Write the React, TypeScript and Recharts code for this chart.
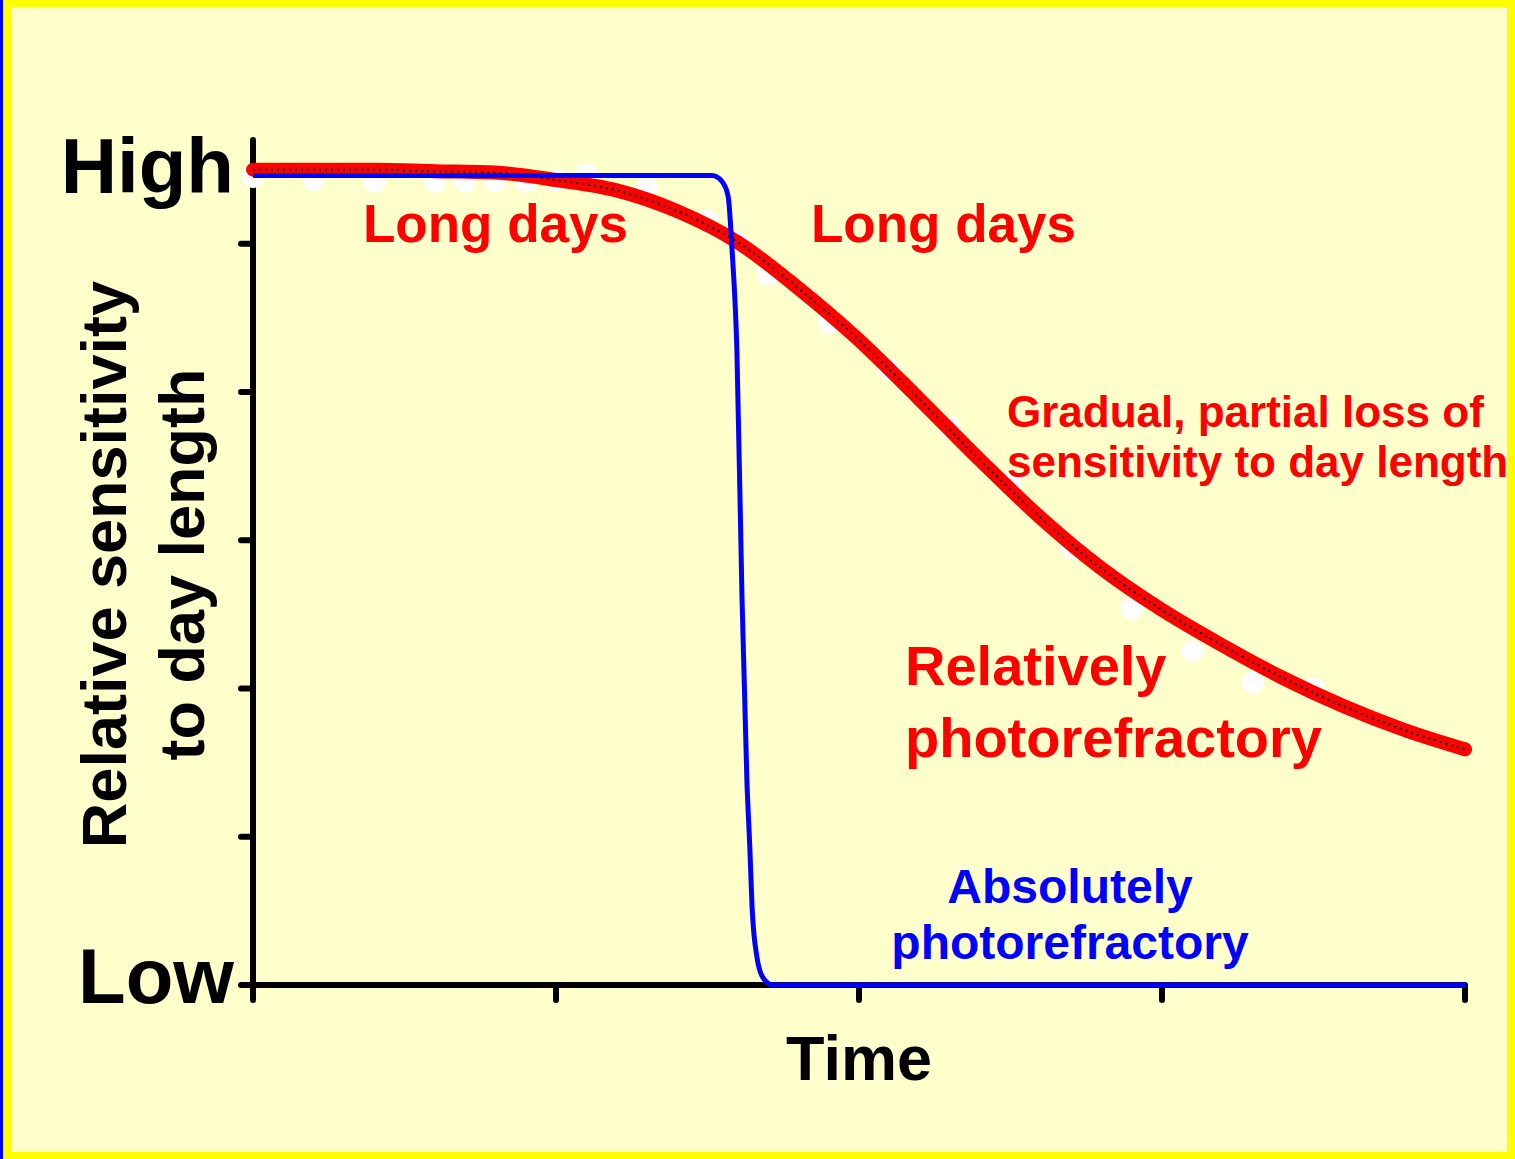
import { ComposedChart, Line, Scatter, XAxis, YAxis } from 'recharts'

// time axis, arbitrary units (0 .. 40)
const relTime = [0, 2, 4, 6, 8, 10, 12, 14, 16, 18, 20, 22, 24, 26, 28, 30, 32, 34, 36, 38, 40]
const relValues = [5.5, 5.5, 5.5, 5.49, 5.48, 5.43, 5.36, 5.22, 5.01, 4.7, 4.35, 3.95, 3.54, 3.15, 2.81, 2.53, 2.29, 2.07, 1.88, 1.72, 1.59]

const absTime = [0, 15.15, 15.48, 15.68, 15.81, 15.97, 16.14, 16.3, 16.4, 16.47, 16.63, 16.83, 17.16, 40]
const absValues = [5.46, 5.46, 5.42, 5.32, 4.96, 4.28, 2.6, 1.38, 0.91, 0.53, 0.19, 0.05, 0, 0]

const pointTime = [0, 2, 4, 6, 7, 8, 9, 10, 11, 13, 15, 16, 17, 19, 21, 23, 25, 27, 29, 31, 33, 35]
const pointValues = [5.45, 5.43, 5.42, 5.42, 5.42, 5.42, 5.42, 5.43, 5.47, 5.38, 5.16, 5.01, 4.79, 4.47, 4.15, 3.76, 3.39, 2.95, 2.54, 2.25, 2.04, 2.0]

const xTicks = [0, 10, 20, 30, 40]
const yTicks = [0, 1, 2, 3, 4, 5, 5.5]
const yTickLabels: Record<number, string> = { 0: 'Low', 5.5: 'High' }

const relData = relTime.map((t, i) => ({ t, v: relValues[i] }))
const absData = absTime.map((t, i) => ({ t, v: absValues[i] }))
const pointData = pointTime.map((t, i) => ({ t, v: pointValues[i] }))

const FONT = '"Liberation Sans", Arial, sans-serif'
const W = 1515
const H = 1159
const MARGIN = { top: 140, right: 50, bottom: 144, left: 193 }

function YTick(props: any) {
  const { x, y, payload } = props
  const label = yTickLabels[payload.value]
  return (
    <g>
      {payload.value !== 5.5 && (
        <line x1={x} x2={x + 12} y1={y} y2={y} stroke='#000' strokeWidth={6} strokeLinecap='round' />
      )}
      {label && (
        <text x={x - 7} y={y + (payload.value === 0 ? 18 : 23)} textAnchor='end'
          fontFamily={FONT} fontWeight='bold' fontSize={78} fill='#000'>
          {label}
        </text>
      )}
    </g>
  )
}

function XTick(props: any) {
  const { x, y } = props
  return <line x1={x} x2={x} y1={y - 15} y2={y} stroke='#000' strokeWidth={6} strokeLinecap='round' />
}

function TimeLabel(props: any) {
  const vb = props.viewBox
  return (
    <text x={vb.x + vb.width / 2} y={vb.y + 95} textAnchor='middle'
      fontFamily={FONT} fontWeight='bold' fontSize={63} fill='#000'>
      Time
    </text>
  )
}

function SensLabel(props: any) {
  const vb = props.viewBox
  const cy = vb.y + vb.height / 2 + 2
  return (
    <g fontFamily={FONT} fontWeight='bold' fontSize={63} fill='#000'>
      <text x={126} y={cy} textAnchor='middle' transform={`rotate(-90, 126, ${cy})`}>Relative sensitivity</text>
      <text x={204} y={cy} textAnchor='middle' transform={`rotate(-90, 204, ${cy})`}>to day length</text>
    </g>
  )
}

const WhiteDot = (props: any) => <circle cx={props.cx} cy={props.cy} r={11} fill='#fff' />

const layer = { position: 'absolute' as const, left: 0, top: 0 }

function App() {
  return (
    <div style={{ position: 'absolute', left: 0, top: 0, width: W, height: H, background: '#ffff00' }}>
      <div style={{ position: 'absolute', left: 0, top: 0, width: 3, height: H, background: '#0000ff' }} />
      <div style={{ position: 'absolute', left: 11, top: 7, width: 1496, height: 1145, background: '#ffffcc' }} />

      {/* bottom layer: axes and the white data points */}
      <div style={layer}>
        <ComposedChart width={W} height={H} margin={MARGIN}>
          <XAxis dataKey='t' type='number' domain={[0, 40]} ticks={xTicks} interval={0}
            axisLine={{ stroke: '#000', strokeWidth: 6 }} tickLine={false} tickSize={15} tickMargin={0}
            tick={<XTick />} height={30} label={<TimeLabel />} />
          <YAxis dataKey='v' type='number' domain={[0, 5.7]} ticks={yTicks} interval={0}
            axisLine={{ stroke: '#000', strokeWidth: 6, strokeLinecap: 'round' }} tickLine={false}
            tickSize={12} tickMargin={0} tick={<YTick />} width={60} label={<SensLabel />} />
          <Scatter data={pointData} dataKey='v' shape={<WhiteDot />} isAnimationActive={false} />
        </ComposedChart>
      </div>

      {/* top layer: the two curves, same scales */}
      <div style={layer}>
        <ComposedChart width={W} height={H} margin={MARGIN}>
          <XAxis dataKey='t' type='number' domain={[0, 40]} ticks={xTicks} height={30}
            axisLine={false} tickLine={false} tick={false} />
          <YAxis dataKey='v' type='number' domain={[0, 5.7]} ticks={yTicks} width={60}
            axisLine={false} tickLine={false} tick={false} />
          <Line data={relData} dataKey='v' type='monotone' stroke='#ff0000' strokeWidth={14}
            strokeLinecap='round' dot={false} activeDot={false} isAnimationActive={false} />
          <Line data={relData} dataKey='v' type='monotone' stroke='#000' strokeWidth={2}
            strokeDasharray='2 4' dot={false} activeDot={false} isAnimationActive={false} />
          <Line data={absData} dataKey='v' type='monotone' stroke='#0000ff' strokeWidth={5}
            dot={false} activeDot={false} isAnimationActive={false} />
        </ComposedChart>
      </div>

      <svg width={W} height={H} style={{ ...layer, pointerEvents: 'none' }}
        fontFamily={FONT} fontWeight='bold'>
        <g fill='#ff0000'>
          <text x={363} y={242} fontSize={53}>Long days</text>
          <text x={811} y={242} fontSize={53}>Long days</text>
          <text x={1007} y={427} fontSize={44}>Gradual, partial loss of</text>
          <text x={1007} y={477} fontSize={44}>sensitivity to day length</text>
          <text x={905} y={685} fontSize={56}>Relatively</text>
          <text x={905} y={757} fontSize={56}>photorefractory</text>
        </g>
        <g fill='#0000ff' textAnchor='middle'>
          <text x={1070} y={903} fontSize={48}>Absolutely</text>
          <text x={1070} y={959} fontSize={48}>photorefractory</text>
        </g>
      </svg>
    </div>
  )
}

export default App
